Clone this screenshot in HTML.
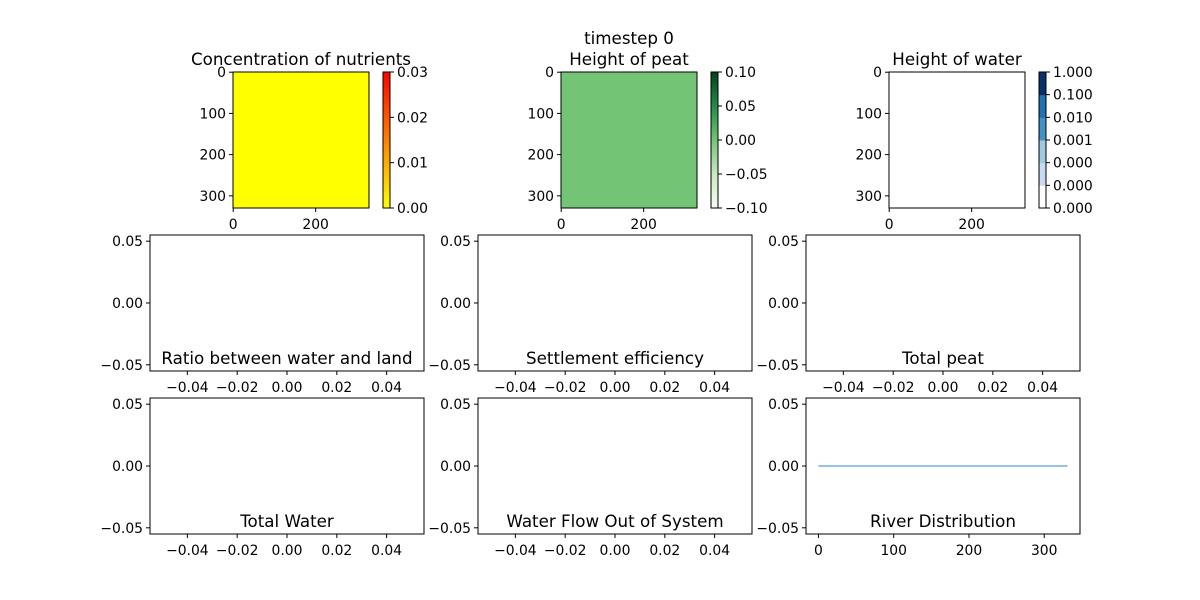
<!DOCTYPE html>
<html><head><meta charset="utf-8"><style>
body{margin:0;background:#fff}
svg{display:block;font-family:"DejaVu Sans","Liberation Sans",sans-serif}
</style></head><body>
<svg id="fig" width="1200" height="600" viewBox="0 0 1200 600">
<defs>
<linearGradient id="gAutumn" x1="0" y1="1" x2="0" y2="0"><stop offset="0" stop-color="#ffff00"/><stop offset="1" stop-color="#ff0000"/></linearGradient>
<linearGradient id="gGreens" x1="0" y1="1" x2="0" y2="0"><stop offset="0" stop-color="#f7fcf5"/><stop offset="0.25" stop-color="#c7e9c0"/><stop offset="0.5" stop-color="#74c476"/><stop offset="0.75" stop-color="#238b45"/><stop offset="1" stop-color="#00441b"/></linearGradient>
</defs>
<text x="629" y="44" font-size="16.7" text-anchor="middle">timestep 0</text>
</svg>
<script>
const svg=document.getElementById('fig');
const NS='http://www.w3.org/2000/svg';
function mk(tag,attrs,text){const e=document.createElementNS(NS,tag);for(const k in attrs)e.setAttribute(k,attrs[k]);if(text!==undefined)e.textContent=text;svg.appendChild(e);return e;}

// ---- data ----
const imageTitles=["Concentration of nutrients","Height of peat","Height of water"];
const imageXTicks=[0,200];
const imageYTicks=[0,100,200,300];
const gridSize=330;
const cb1Ticks=["0.00","0.01","0.02","0.03"];
const cb2Ticks=["\u22120.10","\u22120.05","0.00","0.05","0.10"];
const cb3Ticks=["0.000","0.000","0.000","0.001","0.010","0.100","1.000"];
const cb3Colors=["#ffffff","#c6dbef","#9ecae1","#4292c6","#2171b5","#08306b"];
const lineTitles=["Ratio between water and land","Settlement efficiency","Total peat","Total Water","Water Flow Out of System","River Distribution"];
const emptyXTicks=["\u22120.04","\u22120.02","0.00","0.02","0.04"];
const emptyXVals=[-0.04,-0.02,0,0.02,0.04];
const yTickVals=[-0.05,0,0.05];
const yTickLabels=["\u22120.05","0.00","0.05"];
const riverX=[0,331];
const riverY=[0,0];
const riverXTicks=[0,100,200,300];

const TF=13.9, HF=16.7;
// ---- image panels ----
const imgX=[233,561,889], imgY=72, imgS=136;
const fills=["#ffff00","#74c476","#ffffff"];
for(let i=0;i<3;i++){
  const x0=imgX[i];
  const sc=v=>(v+0.5)/gridSize*imgS;
  let r=mk('rect',{x:x0,y:imgY,width:imgS,height:imgS,fill:fills[i],stroke:'#000','stroke-width':1});
  
  
  let t=mk('text',{x:x0+imgS/2,y:imgY-7,'font-size':HF,'text-anchor':'middle'},imageTitles[i]);
  
  
  imageYTicks.forEach(v=>{const y=imgY+sc(v);mk('line',{x1:x0-4,x2:x0,y1:y,y2:y,stroke:'#000'});
    const l=mk('text',{x:x0-7,y:y+5,'font-size':TF,'text-anchor':'end'},v);
    
    });
  imageXTicks.forEach(v=>{const x=x0+sc(v);mk('line',{x1:x,x2:x,y1:imgY+imgS,y2:imgY+imgS+4,stroke:'#000'});
    const l=mk('text',{x:x,y:imgY+imgS+21,'font-size':TF,'text-anchor':'middle'},v);
    
    });
  const cx=x0+150, cw=7;
  let cb;
  if(i===0) cb=mk('rect',{x:cx,y:imgY,width:cw,height:imgS,fill:'url(#gAutumn)'});
  else if(i===1) cb=mk('rect',{x:cx,y:imgY,width:cw,height:imgS,fill:'url(#gGreens)'});
  else { const bh=imgS/cb3Colors.length;
    cb3Colors.forEach((c,k)=>mk('rect',{x:cx,y:imgY+imgS-(k+1)*bh,width:cw,height:bh+0.5,fill:c}));
    cb=mk('rect',{x:cx,y:imgY,width:cw,height:imgS,fill:'none'}); }
  
  
  mk('rect',{x:cx,y:imgY,width:cw,height:imgS,fill:'none',stroke:'#000','stroke-width':1});
  const ticks=[cb1Ticks,cb2Ticks,cb3Ticks][i];
  ticks.forEach((lab,k)=>{const y=imgY+imgS-k*imgS/(ticks.length-1);
    mk('line',{x1:cx+cw,x2:cx+cw+4,y1:y,y2:y,stroke:'#000'});
    const l=mk('text',{x:cx+cw+7,y:y+5,'font-size':TF},lab);
    
    });
}

// ---- line panels ----
const px=[150,478,806], py=[235,398], pw=274, ph=136;
for(let j=0;j<6;j++){
  const x0=px[j%3], y0=py[Math.floor(j/3)];
  const yS=v=>y0+ph/2-v/0.055*(ph/2);
  const isRiver=j===5;
  const xS=isRiver? (v=>x0+(v+16.55)/(331+33.1)*pw) : (v=>x0+pw/2+v/0.055*(pw/2));
  let r=mk('rect',{x:x0,y:y0,width:pw,height:ph,fill:'#fff',stroke:'#000','stroke-width':1});
  
  
  yTickVals.forEach((v,k)=>{const y=yS(v);mk('line',{x1:x0-4,x2:x0,y1:y,y2:y,stroke:'#000'});
    const l=mk('text',{x:x0-7,y:y+5,'font-size':TF,'text-anchor':'end'},yTickLabels[k]);
    
    });
  const tv=isRiver?riverXTicks:emptyXVals, tl=isRiver?riverXTicks.map(String):emptyXTicks;
  tv.forEach((v,k)=>{const x=xS(v);mk('line',{x1:x,x2:x,y1:y0+ph,y2:y0+ph+4,stroke:'#000'});
    const l=mk('text',{x:x,y:y0+ph+21,'font-size':TF,'text-anchor':'middle'},tl[k]);
    
    });
  if(isRiver){
    const pts=riverX.map((v,k)=>xS(v)+','+yS(riverY[k])).join(' ');
    const pl=mk('polyline',{points:pts,fill:'none',stroke:'#3a8fd0','stroke-width':1.2,'stroke-opacity':0.85});
    
    
  }
  const t=mk('text',{x:x0+pw/2,y:y0+ph-7,'font-size':HF,'text-anchor':'middle'},lineTitles[j]);
  
  
}
</script>
</body></html>
